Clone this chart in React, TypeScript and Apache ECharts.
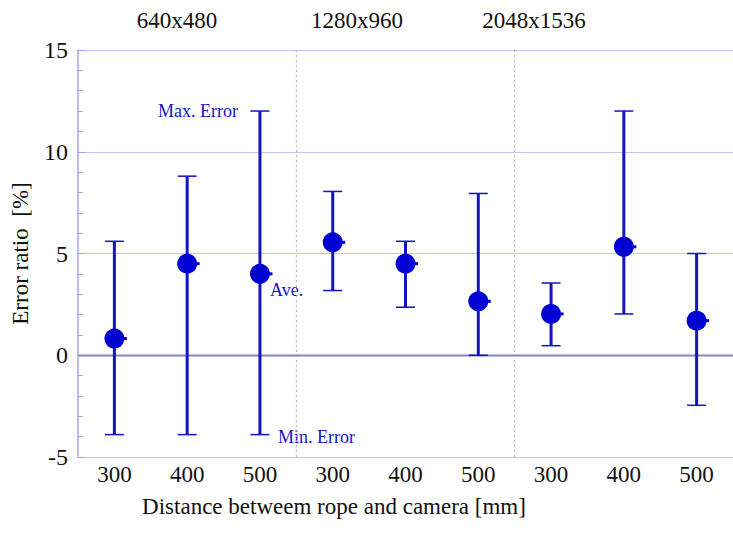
import React, { useEffect, useRef } from "react";
import * as echarts from "echarts";

const groups = ["640x480", "1280x960", "2048x1536"];
const distances = ["300", "400", "500"];
const averages = [0.82, 4.5, 4.0, 5.55, 4.5, 2.65, 2.03, 5.33, 1.7];
const minErrors = [-3.9, -3.9, -3.9, 3.18, 2.36, 0.0, 0.47, 2.03, -2.46];
const maxErrors = [5.6, 8.8, 12.0, 8.05, 5.6, 7.95, 3.55, 12.0, 5.0];
const yTicks = [-5, 0, 5, 10, 15];

const categories = groups.flatMap(() => distances);
const BLUE = "#1414c4";
const DOT = "#0000d2";
const FONT = "Liberation Serif";

export default function App() {
  const ref = useRef<HTMLDivElement>(null);
  useEffect(() => {
    document.body.style.margin = "0";
    if (!ref.current) return;
    const chart = echarts.init(ref.current, null, { renderer: "svg" });
    const rows = averages.map((a, i) => [i, a, minErrors[i], maxErrors[i]]);
    const dividers = groups.slice(1).map((_, g) => [(g + 1) * distances.length - 1, (g + 1) * distances.length]);
    const txt = (x: number, y: number, text: string, size: number, fill: string, align: string) => ({
      type: "text",
      x,
      y,
      style: { text, fontSize: size, fontFamily: FONT, fill, align, verticalAlign: "middle" },
    });
    chart.setOption({
      animation: false,
      textStyle: { fontFamily: FONT },
      grid: { left: 78, top: 50, width: 663, height: 407, containLabel: false },
      xAxis: {
        type: "category",
        data: categories,
        boundaryGap: true,
        axisLine: { show: true, lineStyle: { color: "#a6a6e6", width: 1.5 } },
        axisTick: { show: false },
        axisLabel: { color: "#111", fontSize: 23, fontFamily: FONT, margin: 6 },
        splitLine: { show: false },
      },
      yAxis: {
        type: "value",
        min: yTicks[0],
        max: yTicks[yTicks.length - 1],
        interval: 5,
        name: "Error ratio  [%]",
        nameLocation: "middle",
        nameGap: 46,
        nameRotate: 90,
        nameTextStyle: { color: "#111", fontSize: 23, fontFamily: FONT },
        axisLine: { show: true, lineStyle: { color: "#a6a6e6", width: 1.5 } },
        axisTick: { show: true, inside: true, length: 8, lineStyle: { color: "#a6a6e6" } },
        minorTick: { show: true, splitNumber: 5, length: 5, lineStyle: { color: "#a6a6e6" } },
        axisLabel: { color: "#111", fontSize: 24, fontFamily: FONT, margin: 10 },
        splitLine: { show: true, lineStyle: { color: "#c4c4f2", width: 1 } },
      },
      graphic: [
        txt(177, 20, groups[0], 23, "#111", "center"),
        txt(357, 20, groups[1], 23, "#111", "center"),
        txt(534, 20, groups[2], 23, "#111", "center"),
        txt(334, 506, "Distance betweem rope and camera [mm]", 23, "#111", "center"),
        txt(238, 111, "Max. Error", 18, BLUE, "right"),
        txt(270, 290, "Ave.", 18, BLUE, "left"),
        txt(278, 437, "Min. Error", 18, BLUE, "left"),
      ],
      series: [
        {
          type: "custom",
          silent: true,
          data: dividers,
          renderItem: (params: any, api: any) => {
            const a = api.coord([api.value(0), yTicks[yTicks.length - 1]]);
            const b = api.coord([api.value(1), yTicks[0]]);
            const x = (a[0] + b[0]) / 2;
            return {
              type: "line",
              shape: { x1: x, y1: a[1], x2: x, y2: b[1] },
              style: { stroke: "#a8a8c8", lineWidth: 1, lineDash: [2, 3] },
            };
          },
          z: 1,
        },
        {
          type: "custom",
          silent: true,
          data: [[0, 0]],
          renderItem: (params: any, api: any) => {
            const cs = params.coordSys;
            const p = api.coord([0, 0]);
            return {
              type: "line",
              shape: { x1: cs.x, y1: p[1], x2: cs.x + cs.width, y2: p[1] },
              style: { stroke: "#8a8a9a", lineWidth: 1.5 },
            };
          },
          z: 2,
        },
        {
          type: "custom",
          data: rows,
          renderItem: (params: any, api: any) => {
            const x = api.value(0);
            const pAvg = api.coord([x, api.value(1)]);
            const pMin = api.coord([x, api.value(2)]);
            const pMax = api.coord([x, api.value(3)]);
            const cap = 9.5;
            return {
              type: "group",
              children: [
                { type: "line", shape: { x1: pMax[0], y1: pMax[1], x2: pMin[0], y2: pMin[1] }, style: { stroke: BLUE, lineWidth: 3 } },
                { type: "line", shape: { x1: pMax[0] - cap, y1: pMax[1], x2: pMax[0] + cap, y2: pMax[1] }, style: { stroke: BLUE, lineWidth: 1.5 } },
                { type: "line", shape: { x1: pMin[0] - cap, y1: pMin[1], x2: pMin[0] + cap, y2: pMin[1] }, style: { stroke: BLUE, lineWidth: 1.5 } },
                { type: "line", shape: { x1: pAvg[0], y1: pAvg[1], x2: pAvg[0] + 12.5, y2: pAvg[1] }, style: { stroke: DOT, lineWidth: 3 } },
                { type: "circle", shape: { cx: pAvg[0], cy: pAvg[1], r: 10 }, style: { fill: DOT } },
              ],
            };
          },
          z: 3,
        },
      ],
    });
    return () => chart.dispose();
  }, []);
  return <div ref={ref} style={{ width: 733, height: 540 }} />;
}
